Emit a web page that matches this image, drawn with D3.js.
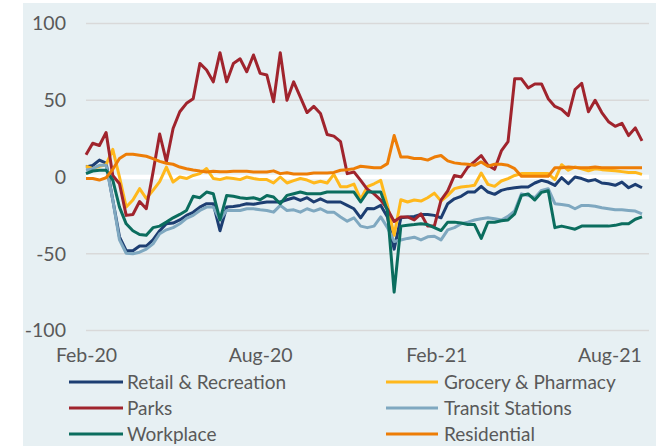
<!DOCTYPE html>
<html>
<head>
<meta charset="utf-8">
<script src="https://cdn.jsdelivr.net/npm/d3@7"></script>
<style>
  body { margin: 0; background: #fff; }
  text { font-family: Lato, "Open Sans", sans-serif; fill: #595959; }
</style>
</head>
<body>
<div id="Area"></div>
<script>
// weekly mobility change vs baseline (%), first week mid Feb 2020
var startDate = new Date(2020, 1, 15);
var nWeeks = 84;
var tickDates = [new Date(2020, 1, 15), new Date(2020, 7, 15), new Date(2021, 1, 15), new Date(2021, 7, 15)];
var tickLabels = ["Feb-20", "Aug-20", "Feb-21", "Aug-21"];
var yTicks = [-100, -50, 0, 50, 100];

var retail = [6.5, 7.5, 11, 9, -15, -39, -48, -48, -45, -45, -41, -35, -30.5, -30, -28, -25, -23, -19.6, -17.4, -17.4, -35, -19.6,
  -19.2, -18.5, -17.4, -17.8, -17, -16.3, -16.3, -16.3, -14.8, -13.5, -15.3, -13.5, -16.3, -14.2, -16.3, -16.3, -16.3, -18.5, -20.7, -26.6, -20.5,
  -20.7, -18.5, -26, -47, -26.6, -26, -25.7, -24.4, -24.4, -25, -26.6, -17.4, -14.2, -12.6, -9.8, -9.8, -6.1, -9.8, -11.3, -8.7, -7.6,
  -7, -6.5, -6.5, -3.9, -2.2, -3.3, -5.5, -0.4, -4.4, 0, -1, -2.6, -1.7, -3.9, -4.4, -5.4, -3.3, -7, -4.8, -7];
var grocery = [7, 5.4, 7, 8, 18, 0, -19.6, -15, -7.6, -14, -8.7, -3, 6.5, -3.3, 0, -1, 1, 2.2, 5.5, -1, -1.7, -0.5,
  -1, -1.7, 0, -1, -1.7, -1.7, -3.9, 0, -3.9, -2.4, -1, -2, -3.9, -2.8, -3.9, 1.7, -6.3, -6.3, -4.6, -14.5, -6.3,
  -4.4, -2.2, -18.5, -38, -14.8, -16.3, -15, -15.7, -13.5, -10.5, -15.7, -12, -7.6, -6.5, -6.1, -5.4, 2.6, -4.8, -6.1, -2.6, -1,
  1, 2.2, 2.2, 2.2, 2.2, 2.2, -1.7, 8, 4.4, 6.5, 5.4, 4, 5.4, 4.8, 4.4, 4, 3.5, 3, 3, 1.7];
var parks = [14.5, 22, 20.5, 29, 1, -4.4, -25, -24.4, -16, -20.7, 3, 28, 10, 31.6, 42.5, 48, 51, 74, 69.7, 62, 81, 62,
  74, 77, 68.6, 79.5, 67.5, 66.4, 49, 81, 50, 62, 52, 42, 46, 41.4, 27.7, 26.6, 23, 2.2, 3.3, -2.2, -8,
  -11, -15, -21, -29, -26, -26, -28, -24, -32, -32, -15, -9, 1, 0, 6.5, 10, 14, 7.6, 5, 17, 23,
  64, 64, 58, 60.6, 60.6, 51, 46, 44, 40, 57, 61, 42.5, 50, 42, 36, 33, 35, 27, 32, 23.5];
var transit = [4.4, 5.4, 7.6, 7.6, -15, -41, -49.7, -50, -49, -47, -43.6, -37, -34.4, -33, -30.5, -27, -25, -21.8, -19.6, -19.6, -28, -21.8,
  -21.8, -21.8, -20.7, -20.7, -21.4, -21.8, -22.9, -18.5, -21.8, -21.4, -22.9, -20.7, -22.2, -20.7, -22.9, -22.9, -26, -28.8, -26.6, -32, -33,
  -32, -26, -33, -42, -41, -40, -39.2, -41, -39, -38.6, -41, -34.4, -33, -30.5, -29.4, -28, -27.2, -26.6, -27.2, -28, -25.7,
  -22, -11, -12, -13.5, -8.7, -7.6, -17.4, -17.9, -18.5, -20.7, -18.5, -18.5, -19, -20, -20.7, -21.4, -21.4, -21.8, -22.2, -24];
var workplace = [2.2, 3.9, 4.4, 4.4, -2, -19.6, -30.5, -35, -37.5, -38, -33, -32, -29.4, -26.6, -24.4, -21.8, -12.6, -13.5, -9.8, -10.9, -28, -12,
  -12.6, -13.5, -14, -13.5, -14.8, -12, -13, -17.4, -12, -10.9, -9.8, -10.9, -10.9, -10.9, -9.8, -9.8, -9.8, -9.8, -9.8, -16.3, -9.8,
  -9.8, -9.8, -22, -75, -32, -31.4, -31, -30.5, -31, -33, -34.9, -29.4, -29.4, -30, -31, -31, -40, -29.5, -29.5, -28.5, -28,
  -24, -12, -11, -15, -10, -9, -33, -32, -33, -34, -32, -32, -32, -32, -32, -31.5, -30.5, -30.5, -27.5, -26];
var residential = [-1, -1, -2, -0.5, 5, 12, 14.8, 14.8, 14.2, 13.5, 12, 10.2, 9, 8.3, 6.5, 5.4, 4.6, 3.9, 3.3, 3.7, 3.5, 3.5,
  3.7, 3.7, 3.7, 3.3, 3.3, 3.3, 4, 2.2, 2.8, 2, 2, 2, 2.6, 2.6, 2.6, 3, 4.4, 4.8, 5.4, 7, 6.5,
  6, 6, 8.7, 27, 13, 13, 12, 12, 11, 13, 14, 10.5, 9.2, 8.7, 8.3, 7.6, 9.8, 7, 8.3, 8.3, 7.6,
  5.4, 0.5, 0.5, 0.5, 0.5, 0.5, 6, 6, 6.5, 6.2, 6, 6, 6.5, 6, 6, 6, 6, 6, 6, 6];

var seriesNames = ["Retail & Recreation", "Grocery & Pharmacy", "Parks", "Transit Stations", "Workplace", "Residential"];
var seriesValues = [retail, grocery, parks, transit, workplace, residential];
var seriesColors = ["#1d3e72", "#ffb81c", "#a0242d", "#7fa8c0", "#0b6d5e", "#ed7d06"];

var dates = d3.range(nWeeks).map(function (i) { return d3.timeDay.offset(startDate, 7 * i); });

var svg = d3.select("#Area")
  .append("svg")
  .attr("width", 660)
  .attr("height", 446);

// panel background
svg.append("rect")
  .attr("x", 23).attr("y", 3)
  .attr("width", 633).attr("height", 443)
  .attr("fill", "#e7f0f3");

var x = d3.scaleTime()
  .domain([dates[0], dates[dates.length - 1]])
  .range([86, 642]);
var y = d3.scaleLinear()
  .domain([-100, 100])
  .range([330.5, 23.5]);

// gridlines
svg.append("g")
  .selectAll("line")
  .data(yTicks.filter(function (d) { return d !== 0; }))
  .enter()
  .append("line")
  .attr("x1", 86).attr("x2", 649)
  .attr("y1", function (d) { return y(d); })
  .attr("y2", function (d) { return y(d); })
  .attr("stroke", "#d9d9d9")
  .attr("stroke-width", 1.5);

svg.append("line")
  .attr("x1", 86).attr("x2", 649)
  .attr("y1", y(0)).attr("y2", y(0))
  .attr("stroke", "#ffffff")
  .attr("stroke-width", 4.5);

// y axis labels (plain hyphen for negatives, like the original)
var yAxis = svg.append("g")
  .attr("transform", "translate(66,0)")
  .call(d3.axisLeft(y).tickValues(yTicks).tickSize(0).tickPadding(0)
    .tickFormat(function (d) { return String(d); }));
yAxis.select(".domain").remove();
yAxis.selectAll("text")
  .style("font-size", "19.5px")
  .style("font-family", "Lato, sans-serif")
  .attr("fill", "#595959");

// x axis labels
var xAxis = svg.append("g")
  .attr("transform", "translate(0,348)")
  .call(d3.axisBottom(x).tickValues(tickDates).tickSize(0).tickPadding(0)
    .tickFormat(function (d, i) { return tickLabels[i]; }));
xAxis.select(".domain").remove();
xAxis.selectAll("text")
  .style("font-size", "19.5px")
  .style("font-family", "Lato, sans-serif")
  .attr("fill", "#595959");

// lines
var line = d3.line()
  .x(function (d, i) { return x(dates[i]); })
  .y(function (d) { return y(d); });

svg.append("g")
  .selectAll("path")
  .data(seriesValues)
  .enter()
  .append("path")
  .attr("d", function (d) { return line(d); })
  .attr("fill", "none")
  .attr("stroke", function (d, i) { return seriesColors[i]; })
  .attr("stroke-width", 3)
  .attr("stroke-linejoin", "round");

// legend, two columns
var legend = svg.append("g")
  .selectAll("g")
  .data(seriesNames)
  .enter()
  .append("g")
  .attr("transform", function (d, i) {
    var col = i % 2, row = Math.floor(i / 2);
    return "translate(" + (col === 0 ? 69 : 386) + "," + (382 + row * 26) + ")";
  });
legend.append("line")
  .attr("x1", 0).attr("x2", function (d, i) { return i % 2 === 0 ? 54 : 52; })
  .attr("stroke", function (d, i) { return seriesColors[i]; })
  .attr("stroke-width", 3);
legend.append("text")
  .attr("x", 58)
  .attr("dy", "0.35em")
  .style("font-size", "19px")
  .text(function (d) { return d; });
</script>
</body>
</html>
